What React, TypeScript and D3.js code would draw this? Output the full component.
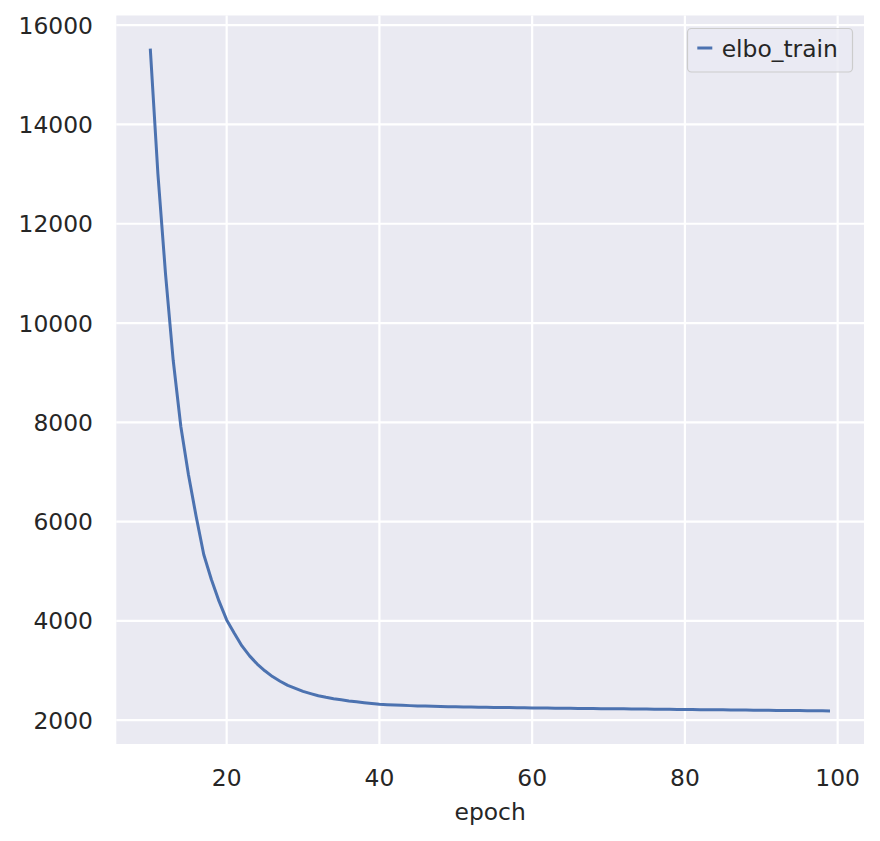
import React from "react";
import * as d3 from "d3";

const epochs: number[] = d3.range(10, 100);
const elboTrain: number[] = [
  15528, 13000, 10980, 9250, 7915, 6945, 6107, 5337, 4834, 4398,
  4020, 3750, 3495, 3295, 3130, 2995, 2878, 2785, 2700, 2640,
  2580, 2535, 2492, 2460, 2432, 2410, 2388, 2370, 2353, 2337,
  2322, 2313, 2305, 2299, 2293, 2287, 2283, 2279, 2275, 2272,
  2269, 2266, 2264, 2261, 2259, 2257, 2255, 2253, 2251, 2249,
  2247, 2245, 2244, 2242, 2241, 2239, 2237, 2236, 2234, 2232,
  2231, 2229, 2228, 2226, 2224, 2223, 2221, 2220, 2218, 2217,
  2215, 2214, 2212, 2211, 2209, 2208, 2206, 2205, 2203, 2202,
  2200, 2199, 2197, 2196, 2194, 2193, 2191, 2190, 2188, 2187,
];
const xTicks: number[] = [20, 40, 60, 80, 100];
const yTicks: number[] = [2000, 4000, 6000, 8000, 10000, 12000, 14000, 16000];
const seriesName = "elbo_train";
const xLabel = "epoch";

const W = 880;
const H = 841;
const left = 116.3;
const right = 864;
const top = 15.5;
const bottom = 744;
const FONT = "DejaVu Sans, sans-serif";
const FS = 23.4;
const TEXT = "#262626";

function padDomain(ext: [number, number]): [number, number] {
  const p = (ext[1] - ext[0]) * 0.05;
  return [ext[0] - p, ext[1] + p];
}

export default function App() {
  const x = d3.scaleLinear().domain(padDomain(d3.extent(epochs) as [number, number])).range([left, right]);
  const y = d3.scaleLinear().domain(padDomain(d3.extent(elboTrain) as [number, number])).range([bottom, top]);
  const line = d3
    .line<number>()
    .x((_, i) => x(epochs[i]))
    .y((d) => y(d));

  return (
    <svg width={W} height={H} style={{ position: "absolute", left: 0, top: 0 }} fontFamily={FONT}>
      <rect x={0} y={0} width={W} height={H} fill="#ffffff" />
      <rect x={left} y={top} width={right - left} height={bottom - top} fill="#eaeaf2" />
      {xTicks.map((t) => (
        <line key={"gx" + t} x1={x(t)} x2={x(t)} y1={top} y2={bottom} stroke="#ffffff" strokeWidth={2.2} />
      ))}
      {yTicks.map((t) => (
        <line key={"gy" + t} x1={left} x2={right} y1={y(t)} y2={y(t)} stroke="#ffffff" strokeWidth={2.2} />
      ))}
      <path d={line(elboTrain) || ""} fill="none" stroke="#4c72b0" strokeWidth={3} strokeLinejoin="round" />
      {xTicks.map((t) => (
        <text key={"tx" + t} x={x(t)} y={786} textAnchor="middle" fontSize={FS} fill={TEXT}>
          {t}
        </text>
      ))}
      {yTicks.map((t) => (
        <text key={"ty" + t} x={93} y={y(t)} dy="0.364em" textAnchor="end" fontSize={FS} fill={TEXT}>
          {t}
        </text>
      ))}
      <text x={(left + right) / 2} y={820} textAnchor="middle" fontSize={FS} fill={TEXT}>
        {xLabel}
      </text>
      <g>
        <rect x={687.5} y={28.5} width={165} height={43.5} rx={4} fill="#eaeaf2" fillOpacity={0.8} stroke="#cccccc" strokeWidth={1.2} />
        <line x1={697.3} x2={712.3} y1={48} y2={48} stroke="#4c72b0" strokeWidth={3} />
        <text x={721.7} y={56.7} fontSize={FS} fill={TEXT}>
          {seriesName}
        </text>
      </g>
    </svg>
  );
}
